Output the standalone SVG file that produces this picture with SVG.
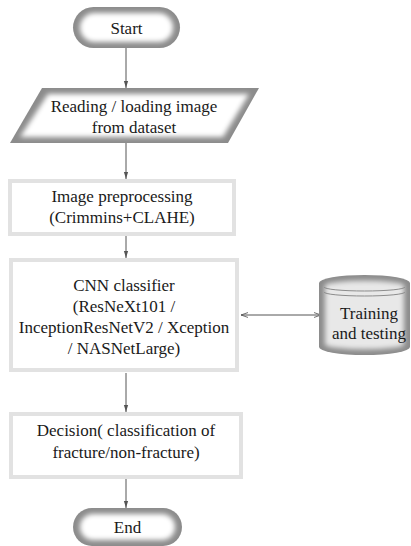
<svg xmlns="http://www.w3.org/2000/svg" width="411" height="546" viewBox="0 0 411 546">
<defs>
<filter id="blur" x="-20%" y="-20%" width="140%" height="140%"><feGaussianBlur stdDeviation="2.5"/></filter>
<marker id="ah" viewBox="0 0 10 10" refX="10" refY="5" markerWidth="7" markerHeight="7" orient="auto-start-reverse" markerUnits="userSpaceOnUse">
<path d="M0,1.5 L10,5 L0,8.5" fill="none" stroke="#555" stroke-width="1.2"/>
</marker>
<marker id="ahf" viewBox="0 0 10 10" refX="10" refY="5" markerWidth="7" markerHeight="7" orient="auto" markerUnits="userSpaceOnUse">
<path d="M0,2 L10,5 L0,8 Z" fill="#555"/>
</marker>
</defs>
<rect width="411" height="546" fill="#fff"/>
<g id="connectors" stroke="#555" stroke-width="1" fill="none">
<line x1="126" y1="48" x2="126" y2="88" marker-end="url(#ahf)"/>
<line x1="126" y1="143" x2="126" y2="179" marker-end="url(#ahf)"/>
<line x1="126" y1="236" x2="126" y2="258" marker-end="url(#ahf)"/>
<line x1="126" y1="373" x2="126" y2="412" marker-end="url(#ahf)"/>
<line x1="126" y1="479" x2="126" y2="508" marker-end="url(#ahf)"/>
<line x1="241" y1="315" x2="321" y2="315" marker-start="url(#ah)" marker-end="url(#ah)"/>
</g>
<g font-family="Liberation Serif" font-size="17" fill="#1a1a1a" text-anchor="middle">
<g id="start">
<rect fill="#8c8c8c" x="73" y="7" width="107" height="41" rx="20.5"/>
<rect fill="#fff" filter="url(#blur)" x="80" y="13" width="93" height="29" rx="14.5"/>
<text x="126.5" y="34">Start</text>
</g>
<g id="read">
<polygon fill="#8c8c8c" points="42,88 259,88 228,143 10,143"/>
<polygon fill="#fff" filter="url(#blur)" points="48,94 249,94 223,137 20,137"/>
<text x="134" y="112">Reading / loading image</text>
<text x="134" y="133">from dataset</text>
</g>
<g id="preprocess">
<rect fill="#fff" stroke="#e2e2e2" stroke-width="4" x="10" y="181" width="224" height="53"/>
<text x="122" y="202">Image preprocessing</text>
<text x="122" y="223">(Crimmins+CLAHE)</text>
</g>
<g id="cnn">
<rect fill="#fff" stroke="#e2e2e2" stroke-width="4" x="11" y="260" width="226" height="110"/>
<text x="124" y="291">CNN classifier</text>
<text x="124" y="312">(ResNeXt101 /</text>
<text x="124" y="333">InceptionResNetV2 / Xception</text>
<text x="124" y="354">/ NASNetLarge)</text>
</g>
<g id="training">
<path fill="#8c8c8c" d="M319,283 A45.5,8 0 0 1 410,283 V347 A45.5,8 0 0 1 319,347 Z"/>
<path fill="#e8e8e8" filter="url(#blur)" d="M325,285 A40,5 0 0 1 404,285 V345 A40,5 0 0 1 325,345 Z"/>
<path d="M324,287 A40.5,4 0 0 0 405,287 M324,292 A40.5,4 0 0 0 405,292" fill="none" stroke="#8c8c8c" stroke-width="1"/>
<text x="369" y="319">Training</text>
<text x="369" y="339">and testing</text>
</g>
<g id="decision">
<rect fill="#fff" stroke="#e2e2e2" stroke-width="4" x="11" y="414" width="230" height="63"/>
<text x="126" y="436">Decision( classification of</text>
<text x="126" y="458">fracture/non-fracture)</text>
</g>
<g id="end">
<rect fill="#8c8c8c" x="73" y="508" width="109" height="38" rx="19"/>
<rect fill="#fff" filter="url(#blur)" x="80" y="514" width="95" height="26" rx="13"/>
<text x="127.5" y="533">End</text>
</g>
</g>
</svg>
